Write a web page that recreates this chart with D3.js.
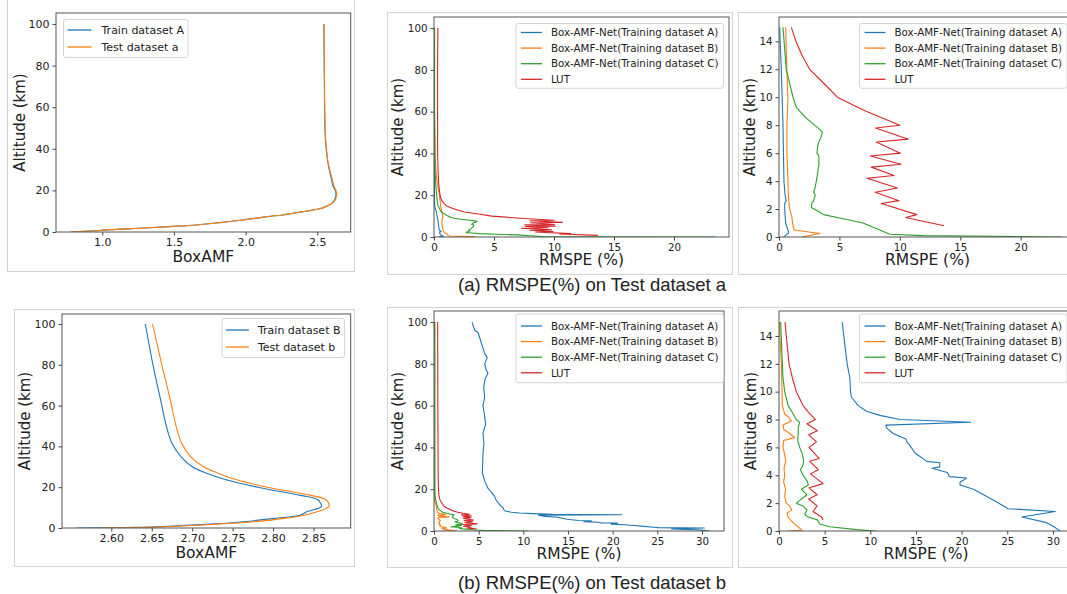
<!DOCTYPE html>
<html>
<head>
<meta charset="utf-8">
<script src="https://cdn.jsdelivr.net/npm/d3@7"></script>
<style>
  body { margin: 0; background: #fff; }
  svg { display: block; font-family: "DejaVu Sans", sans-serif; }
</style>
</head>
<body>
<svg id="chart" width="1067" height="594"></svg>
<script>
// ---- data: [altitude km, value] ----

// (a) BoxAMF profiles
var trainA = [[0,0.78],[0.3,0.88],[0.6,0.95],[1,1.03],[1.8,1.26],[2.6,1.47],[3.4,1.66],[4.5,1.82],[5.8,1.98],
  [7.4,2.15],[8.2,2.26],[9,2.33],[10,2.42],[10.9,2.5],[12.2,2.56],[13.8,2.6],[15.4,2.62],[17.8,2.63],[20,2.625],
  [22,2.61],[25,2.6],[28,2.59],[31,2.58],[35,2.57],[40,2.562],[45,2.556],[55,2.552],[65,2.55],[80,2.548],[100,2.546]];
var testA = [[0,0.78],[0.3,0.88],[0.6,0.95],[1,1.03],[1.8,1.26],[2.6,1.47],[3.4,1.66],[4.5,1.82],[5.8,1.98],
  [7.4,2.15],[8.2,2.26],[9,2.33],[10,2.42],[10.9,2.5],[12.2,2.56],[13.8,2.605],[15.4,2.625],[17.8,2.635],[20,2.63],
  [22,2.617],[25,2.605],[28,2.594],[31,2.583],[35,2.572],[40,2.564],[45,2.558],[55,2.553],[65,2.551],[80,2.549],[100,2.547]];

// (b) BoxAMF profiles
var trainB = [[0,2.557],[0.3,2.628],[1,2.677],[2,2.727],[3.1,2.764],[4.7,2.801],[6.4,2.834],[8.2,2.843],[8.8,2.849],
  [9.5,2.855],[10.5,2.86],[12,2.859],[14,2.855],[16,2.834],[20,2.781],[23.5,2.743],[27,2.717],[30,2.7],[35,2.686],
  [41.5,2.675],[50,2.668],[62.7,2.661],[79,2.652],[100,2.642]];
var testB = [[0,2.586],[0.3,2.648],[1,2.686],[2,2.735],[3.1,2.776],[4.7,2.814],[6.4,2.84],[8.8,2.861],[9.5,2.865],
  [10.5,2.869],[12,2.869],[14,2.865],[16,2.847],[20,2.793],[23.5,2.756],[27,2.731],[30,2.714],[35,2.698],
  [41.5,2.687],[50,2.68],[62.7,2.673],[79,2.663],[100,2.651]];

// (a) RMSPE on test dataset a
var netA_a = [[100,0.02],[50,0.02],[30,0.03],[20,0.04],[15,0.05],[12,0.19],[8,0.33],[4,0.41],[3,0.5],[2.6,0.6],
  [2.4,0.47],[2,0.47],[1,0.55],[0.5,0.74],[0.3,0.8],[0,0.39]];
var netB_a = [[100,0.03],[60,0.04],[40,0.08],[30,0.18],[25,0.3],[20,0.45],[17,0.52],[15,0.55],[12,0.65],[10,0.74],
  [8,0.66],[6,0.66],[4,0.74],[3,0.77],[2,0.88],[1.5,1.05],[0.8,1.16],[0.5,1.25],[0.25,3.4],[0,1.85]];
var netC_a = [[100,0.05],[60,0.05],[40,0.08],[30,0.1],[25,0.15],[20,0.22],[17,0.28],[15,0.33],[12,0.6],[11,0.88],
  [10,1.16],[9.3,1.43],[9,1.71],[8.5,2.26],[8,2.95],[7.7,3.37],[7.5,3.59],[7.2,3.5],[6.8,3.3],[6.5,3.2],[6,3.14],
  [5.8,3.3],[5.2,3.3],[4.6,3.2],[4,3.09],[3.5,2.98],[3.2,2.87],[3,3.0],[2.6,2.87],[2.4,2.7],[2.1,2.7],[1.9,3.14],
  [1.6,3.7],[1.3,5.3],[1,6.95],[0.6,8.05],[0.2,9.16],[0.1,11.9],[0,23.4]];
var lut_a = [[100,0.32],[80,0.3],[60,0.3],[40,0.3],[30,0.35],[25,0.4],[20,0.5],[18,0.6],[17,0.7],[16,0.85],[15,1.02],
  [14,1.4],[13,1.9],[12,2.54],[11,3.7],[10,4.83],[9.5,6.0],[9,7.2],[8.5,8.6],[8,10.0],[7.8,8.0],[7,10.7],[6.8,8.05],
  [6,10.04],[5.8,7.56],[5.2,10.1],[5,7.64],[4.4,9.52],[4.2,7.28],[3.5,9.8],[3.2,7.97],[2.6,9.93],[2.4,8.47],
  [1.6,11.4],[1.4,10.48],[0.8,13.66]];

// (b) RMSPE on test dataset b
var netA_b = [[100,4.26],[96,4.56],[95,4.93],[90,5.3],[85,5.67],[83,5.96],[80,5.67],[77,5.85],[75.5,6.04],[73,5.74],
  [69,5.56],[64,5.67],[60,5.48],[55,5.67],[51,5.78],[47,5.48],[42,5.59],[37,5.48],[31,5.44],[28,5.41],[24,5.67],
  [20.5,6.04],[16.6,6.78],[15,6.92],[14,7.1],[13,7.28],[12,7.46],[11,7.76],[10,7.83],[9.6,7.94],[9,8.67],[8.6,9.59],
  [8.3,11.05],[8,13.25],[7.8,21.0],[7.6,11.7],[7.4,11.78],[7,12.5],[6.6,13.9],[6.4,14.0],[6.2,14.27],[5.6,14.9],
  [5,16.17],[4.9,17.6],[4.6,17.6],[4.5,16.76],[4.2,18.44],[3.9,18.66],[3.8,20.56],[3.5,19.83],[3.3,19.83],[3,21.3],
  [2.6,22.4],[2.2,23.5],[1.8,24.6],[1.6,25.1],[1.4,30.26],[1,26.6],[0.6,29.3],[0.4,29.9],[0,30.8]];
var netB_b = [[100,0.05],[30,0.05],[15,0.07],[14,0.1],[12,0.26],[10,0.33],[9,0.37],[8.4,0.62],[8.2,1.0],[7.9,1.35],
  [7.6,0.44],[7.3,0.51],[7,1.17],[6.7,1.72],[6.5,0.51],[6,0.44],[5.5,0.62],[5,0.73],[4.5,0.55],[4,0.62],[3.5,0.51],
  [3,0.73],[2.5,0.62],[2,0.8],[1.8,1.17],[1.5,1.39],[1.3,0.88],[1,0.99],[0.6,1.54],[0.2,2.27],[0.05,2.5],[0,1.0]];
var netC_b = [[100,0.1],[30,0.1],[20,0.1],[17,0.12],[15,0.18],[12,0.37],[11,0.44],[10,0.62],[9,1.0],[8.5,1.46],
  [8,1.9],[7.8,2.27],[7.5,2.12],[7,2.1],[6.5,2.05],[6,2.27],[5.5,2.56],[5,2.7],[4.7,2.6],[4.4,2.34],[4,2.63],
  [3.6,3.07],[3.3,3.22],[3,2.45],[2.6,3.07],[2.2,2.27],[2,1.9],[1.8,2.63],[1.5,3.07],[1.2,2.82],[1,3.18],[0.8,4.2],
  [0.5,4.46],[0.3,5.56],[0.1,8.5],[0,10.6]];
var lut_b = [[100,0.41],[60,0.43],[40,0.45],[25,0.47],[20,0.5],[17,0.55],[15,0.66],[14,0.8],[12,1.1],[11,1.46],
  [10,1.9],[9,2.63],[8.5,3.26],[8,3.99],[7.7,3.07],[7.2,4.2],[6.9,3.26],[6.4,4.1],[6,3.29],[5.2,4.4],[5,3.37],
  [4.4,4.3],[4.1,3.44],[3.4,4.83],[3.1,3.29],[2.6,4.17],[2.3,3.26],[1.8,4.17],[1.4,3.73],[1,4.65],[0.8,4.83]];

var netLabels = ["Box-AMF-Net(Training dataset A)", "Box-AMF-Net(Training dataset B)",
  "Box-AMF-Net(Training dataset C)", "LUT"];
var boxLabelsA = ["Train dataset A", "Test dataset a"];
var boxLabelsB = ["Train dataset B", "Test dataset b"];
var captions = ["(a) RMSPE(%) on Test dataset a", "(b) RMSPE(%) on Test dataset b"];

var COLORS = ["#1f77b4", "#ff7f0e", "#2ca02c", "#d62728"];

var svg = d3.select("#chart");

function drawLegend(g, labels, o) {
  var lg = g.append("g");
  var box = lg.append("rect")
    .attr("rx", 2.5)
    .attr("fill", "#fff").attr("fill-opacity", 0.8)
    .attr("stroke", "#d4d4d4").attr("stroke-width", 1);
  var widest = 0;
  labels.forEach(function(lab, i) {
    var cy = o.first + i * o.gap;
    lg.append("line")
      .attr("x1", o.lineX0).attr("x2", o.lineX1)
      .attr("y1", cy).attr("y2", cy)
      .attr("stroke", COLORS[i]).attr("stroke-width", 1.3);
    var t = lg.append("text")
      .attr("x", o.textX).attr("y", cy)
      .attr("dy", "0.36em")
      .attr("font-size", o.font)
      .attr("fill", "#222")
      .text(lab);
    widest = Math.max(widest, t.node().getComputedTextLength());
  });
  var w = o.textX + widest + o.padR;
  var h = o.first + (labels.length - 1) * o.gap + o.padB;
  box.attr("width", w).attr("height", h);
  var left = o.left != null ? o.left : o.right - w;
  lg.attr("transform", "translate(" + (left + 0.5) + "," + (o.top + 0.5) + ")");
}

function drawPanel(p) {
  // outer image frame
  svg.append("rect")
    .attr("x", p.frame[0] + 0.5).attr("y", p.frame[1] + 0.5)
    .attr("width", p.frame[2]).attr("height", p.frame[3])
    .attr("fill", "none").attr("stroke", "#d3d3d3");

  var x = d3.scaleLinear().domain(p.xDom).range([p.ax[0], p.ax[1]]);
  var y = d3.scaleLinear().domain(p.yDom).range([p.ax[3], p.ax[2]]);

  var g = svg.append("g");
  var clipId = "clip" + p.id;
  g.append("clipPath").attr("id", clipId)
    .append("rect")
    .attr("x", p.ax[0]).attr("y", p.ax[2])
    .attr("width", p.ax[1] - p.ax[0]).attr("height", p.ax[3] - p.ax[2]);

  var line = d3.line()
    .x(function(d) { return x(d[1]); })
    .y(function(d) { return y(d[0]); })
    .curve(p.smooth ? d3.curveCatmullRom.alpha(0.5) : d3.curveLinear);

  var plot = g.append("g").attr("clip-path", "url(#" + clipId + ")");
  p.series.forEach(function(s, i) {
    var pts = s.filter(function(d) { return d[0] <= p.yMaxData; });
    plot.append("path")
      .attr("d", line(pts))
      .attr("fill", "none")
      .attr("stroke", COLORS[i])
      .attr("stroke-width", 1.1)
      .attr("stroke-linejoin", "round");
  });

  var xAxis = g.append("g")
    .attr("transform", "translate(0," + p.ax[3] + ")")
    .call(d3.axisBottom(x).tickValues(p.xTicks).tickFormat(d3.format(p.xFmt))
      .tickSize(3.5).tickPadding(3));
  var yAxis = g.append("g")
    .attr("transform", "translate(" + p.ax[0] + ",0)")
    .call(d3.axisLeft(y).tickValues(p.yTicks).tickFormat(d3.format("d"))
      .tickSize(3.5).tickPadding(3));
  [xAxis, yAxis].forEach(function(a) {
    a.select(".domain").remove();
    a.selectAll("line").attr("stroke", "#444");
    a.selectAll("text").attr("font-size", p.tickFont).attr("fill", "#222")
      .attr("font-family", "DejaVu Sans, sans-serif");
  });

  // spines
  g.append("rect")
    .attr("x", p.ax[0]).attr("y", p.ax[2])
    .attr("width", p.ax[1] - p.ax[0]).attr("height", p.ax[3] - p.ax[2])
    .attr("fill", "none").attr("stroke", "#555").attr("stroke-width", 1);

  g.append("text")
    .attr("x", (p.ax[0] + p.ax[1]) / 2)
    .attr("y", p.ax[3] + p.xLabOff)
    .attr("text-anchor", "middle")
    .attr("font-size", 15.5).attr("fill", "#222")
    .text(p.xLabel);

  var ly = (p.ax[2] + p.ax[3]) / 2;
  var lx = p.ax[0] - p.yLabOff;
  g.append("text")
    .attr("transform", "translate(" + lx + "," + ly + ") rotate(-90)")
    .attr("text-anchor", "middle")
    .attr("font-size", 15).attr("fill", "#222")
    .text("Altitude (km)");

  drawLegend(g, p.labels, p.legend);
}

var netLegendA = { top: 23, first: 9, gap: 15.6, padB: 9, lineX0: 5, lineX1: 26, textX: 35, padR: 5, font: 10.3 };
var netLegendB = { top: 313.5, first: 12, gap: 15.6, padB: 10, lineX0: 5, lineX1: 26, textX: 35, padR: 5, font: 10.3 };

var panels = [
  { id: 1, frame: [7, -1, 347, 272], ax: [56, 350.7, 13, 232], xDom: [0.677, 2.733], yDom: [0, 105.3], yMaxData: 100,
    xTicks: [1.0, 1.5, 2.0, 2.5], xFmt: ".1f", yTicks: [0, 20, 40, 60, 80, 100], tickFont: 11, smooth: true,
    xLabel: "BoxAMF", xLabOff: 30, yLabOff: 31.5, series: [trainA, testA], labels: boxLabelsA,
    legend: { left: 63, top: 19, first: 10.5, gap: 17, padB: 10.5, lineX0: 4, lineX1: 28, textX: 38, padR: 4, font: 11 } },
  { id: 2, frame: [387, 12, 345, 262], ax: [434, 729, 17, 237], xDom: [0, 24.58], yDom: [0, 105.3], yMaxData: 100,
    xTicks: [0, 5, 10, 15, 20], xFmt: "d", yTicks: [0, 20, 40, 60, 80, 100], tickFont: 10.3,
    xLabel: "RMSPE (%)", xLabOff: 28, yLabOff: 31, series: [netA_a, netB_a, netC_a, lut_a], labels: netLabels,
    legend: Object.assign({ right: 723 }, netLegendA) },
  { id: 3, frame: [738, 12, 345, 262], ax: [779, 1076, 17, 237], xDom: [0, 24.58], yDom: [0, 15.74], yMaxData: 15,
    xTicks: [0, 5, 10, 15, 20], xFmt: "d", yTicks: [0, 2, 4, 6, 8, 10, 12, 14], tickFont: 10.3,
    xLabel: "RMSPE (%)", xLabOff: 28, yLabOff: 24, series: [netA_a, netB_a, netC_a, lut_a], labels: netLabels,
    legend: Object.assign({ left: 859 }, netLegendA) },
  { id: 4, frame: [14, 309, 340, 257], ax: [62, 350.7, 314, 528], xDom: [2.539, 2.896], yDom: [0, 104.9], yMaxData: 100,
    xTicks: [2.60, 2.65, 2.70, 2.75, 2.80, 2.85], xFmt: ".2f", yTicks: [0, 20, 40, 60, 80, 100], tickFont: 11, smooth: true,
    xLabel: "BoxAMF", xLabOff: 30, yLabOff: 32, series: [trainB, testB], labels: boxLabelsB,
    legend: { right: 344, top: 318, first: 11.5, gap: 17, padB: 10.5, lineX0: 4, lineX1: 27, textX: 36, padR: 4, font: 11 } },
  { id: 5, frame: [387, 307, 345, 260], ax: [434, 724, 311, 531], xDom: [0, 32.46], yDom: [0, 105.3], yMaxData: 100,
    xTicks: [0, 5, 10, 15, 20, 25, 30], xFmt: "d", yTicks: [0, 20, 40, 60, 80, 100], tickFont: 10.3,
    xLabel: "RMSPE (%)", xLabOff: 28, yLabOff: 31, series: [netA_b, netB_b, netC_b, lut_b], labels: netLabels,
    legend: Object.assign({ right: 723 }, netLegendB) },
  { id: 6, frame: [738, 307, 345, 260], ax: [779, 1073, 311, 531], xDom: [0, 32.2], yDom: [0, 15.79], yMaxData: 15,
    xTicks: [0, 5, 10, 15, 20, 25, 30], xFmt: "d", yTicks: [0, 2, 4, 6, 8, 10, 12, 14], tickFont: 10.3,
    xLabel: "RMSPE (%)", xLabOff: 28, yLabOff: 23, series: [netA_b, netB_b, netC_b, lut_b], labels: netLabels,
    legend: Object.assign({ left: 859 }, netLegendB) }
];

panels.forEach(drawPanel);

svg.selectAll(".caption")
  .data(captions)
  .join("text")
  .attr("class", "caption")
  .attr("x", 592)
  .attr("y", function(d, i) { return i === 0 ? 291 : 589; })
  .attr("text-anchor", "middle")
  .attr("font-family", "Liberation Sans, Arial, sans-serif")
  .attr("font-size", 18.5)
  .attr("fill", "#222")
  .text(function(d) { return d; });
</script>
</body>
</html>
